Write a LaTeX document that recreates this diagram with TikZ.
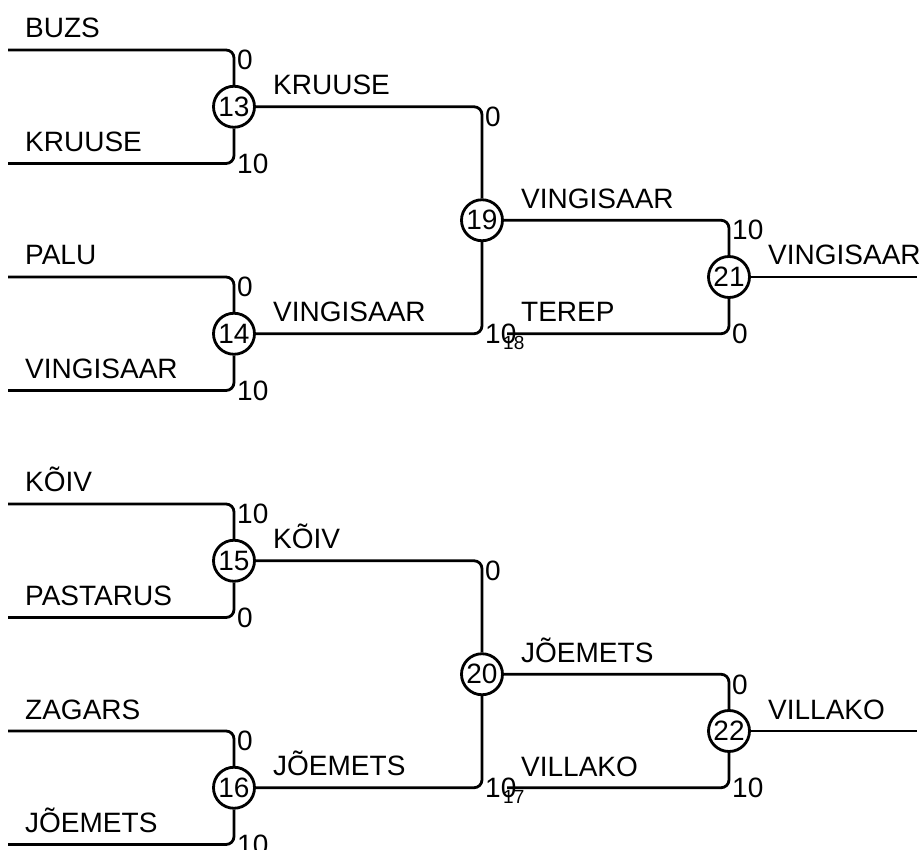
\documentclass[tikz,border=0pt]{standalone}
\usepackage{fontspec}
\setmainfont{Liberation Sans}
\begin{document}
\begin{tikzpicture}[x=1pt,y=-1pt]
\tikzset{
  ln/.style={line width=2.8pt, rounded corners=8pt},
  mnode/.style={circle, draw, line width=2.8pt, fill=white, minimum size=41pt, inner sep=0pt, font=\fontsize{28}{28}\selectfont},
  pname/.style={anchor=base west, inner sep=0pt, font=\fontsize{28}{28}\selectfont},
  sctop/.style={anchor=north west, inner sep=0pt, font=\fontsize{28}{28}\selectfont},
  scbot/.style={anchor=west, inner sep=0pt, font=\fontsize{28}{28}\selectfont},
  refno/.style={anchor=north west, inner sep=0pt, font=\fontsize{19}{19}\selectfont},
}
\useasboundingbox (0,0) rectangle (922,850);
% match nodes
\node[mnode] (m13) at (234,106.75) {13};
\node[mnode] (m14) at (234,333.75) {14};
\node[mnode] (m15) at (234,560.75) {15};
\node[mnode] (m16) at (234,787.75) {16};
\node[mnode] (m19) at (482,220.25) {19};
\node[mnode] (m20) at (482,674.25) {20};
\node[mnode] (m21) at (729,277) {21};
\node[mnode] (m22) at (729,731) {22};
% entrant line starts
\coordinate (e1) at (8,50);
\coordinate (e2) at (8,163.5);
\coordinate (e3) at (8,277);
\coordinate (e4) at (8,390.5);
\coordinate (e5) at (8,504);
\coordinate (e6) at (8,617.5);
\coordinate (e7) at (8,731);
\coordinate (e8) at (8,844.5);
\coordinate (t18) at (507,333.75);
\coordinate (t17) at (507,787.75);
\coordinate (o21) at (917,277);
\coordinate (o22) at (917,731);
% connectors
\draw[ln] (e1) -| (m13);
\draw[ln] (e2) -| (m13);
\draw[ln] (e3) -| (m14);
\draw[ln] (e4) -| (m14);
\draw[ln] (e5) -| (m15);
\draw[ln] (e6) -| (m15);
\draw[ln] (e7) -| (m16);
\draw[ln] (e8) -| (m16);
\draw[ln] (m13) -| (m19);
\draw[ln] (m14) -| (m19);
\draw[ln] (m15) -| (m20);
\draw[ln] (m16) -| (m20);
\draw[ln] (m19) -| (m21);
\draw[ln] (t18) -| (m21);
\draw[ln] (m20) -| (m22);
\draw[ln] (t17) -| (m22);
\draw[ln] (m21) -- (o21);
\draw[ln] (m22) -- (o22);
% entrant names
\node[pname] (n1) at (25,38) {BUZS};
\node[pname] (n2) at (25,151.5) {KRUUSE};
\node[pname] (n3) at (25,265) {PALU};
\node[pname] (n4) at (25,378.5) {VINGISAAR};
\node[pname] (n5) at (25,492) {KÕIV};
\node[pname] (n6) at (25,605.5) {PASTARUS};
\node[pname] (n7) at (25,719) {ZAGARS};
\node[pname] (n8) at (25,832.5) {JÕEMETS};
% winners / advancing names
\node[pname] (w13) at (273,94.75) {KRUUSE};
\node[pname] (w14) at (273,321.75) {VINGISAAR};
\node[pname] (w15) at (273,548.75) {KÕIV};
\node[pname] (w16) at (273,775.75) {JÕEMETS};
\node[pname] (w19) at (521,208.25) {VINGISAAR};
\node[pname] (l18) at (521,322) {TEREP};
\node[pname] (w20) at (521,662.25) {JÕEMETS};
\node[pname] (l17) at (521,776) {VILLAKO};
\node[pname] (w21) at (768,265) {VINGISAAR};
\node[pname] (w22) at (768,719) {VILLAKO};
% scores
\node[sctop] (s13a) at (237,50) {0};
\node[scbot] (s13b) at (237,163.5) {10};
\node[sctop] (s14a) at (237,277) {0};
\node[scbot] (s14b) at (237,390.5) {10};
\node[sctop] (s15a) at (237,504) {10};
\node[scbot] (s15b) at (237,617.5) {0};
\node[sctop] (s16a) at (237,731) {0};
\node[scbot] (s16b) at (237,844.5) {10};
\node[sctop] (s19a) at (485,106.75) {0};
\node[scbot] (s19b) at (485,333.75) {10};
\node[refno] (r18) at (503,335.75) {18};
\node[sctop] (s20a) at (485,560.75) {0};
\node[scbot] (s20b) at (485,787.75) {10};
\node[refno] (r17) at (503,789.75) {17};
\node[sctop] (s21a) at (732,220.25) {10};
\node[scbot] (s21b) at (732,333.75) {0};
\node[sctop] (s22a) at (732,674.25) {0};
\node[scbot] (s22b) at (732,787.75) {10};
\end{tikzpicture}
\end{document}
